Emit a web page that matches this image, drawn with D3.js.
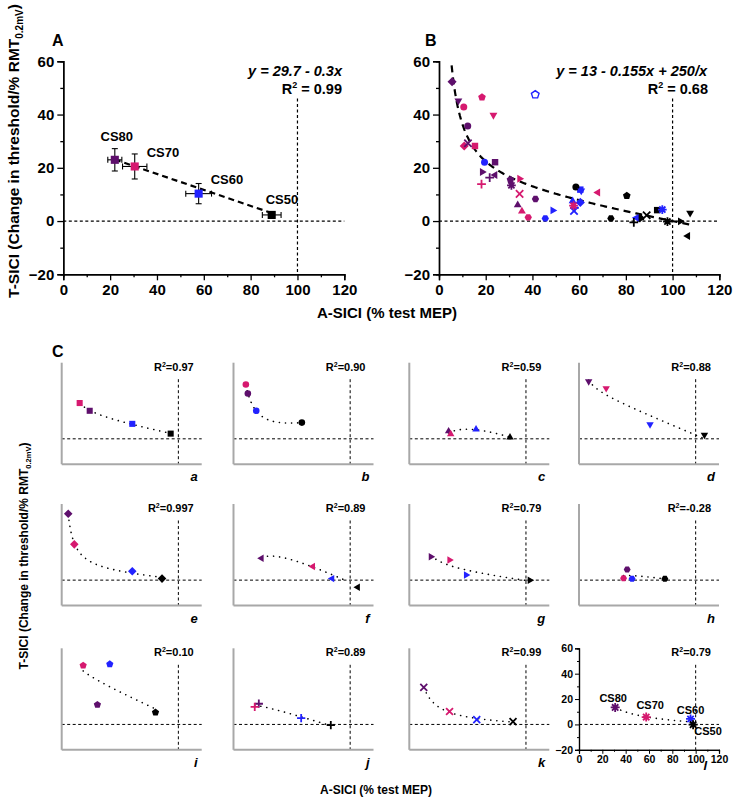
<!DOCTYPE html>
<html><head><meta charset="utf-8">
<script src="https://cdn.jsdelivr.net/npm/d3@7"></script>
<style>
body{margin:0;background:#fff}
text{font-family:"Liberation Sans",Arial,sans-serif;font-weight:bold;fill:#000}
</style>
</head><body>
<svg id="chart" width="733" height="798"></svg>
<script>
// ---------------- DATA ----------------
const csLevels = ["CS80","CS70","CS60","CS50"];
// Panel A (group means with SE)
const meanASICI = [22.0, 30.5, 57.8, 89.0];
const meanTSICI = [23.0, 20.5, 10.3, 2.3];
const errASICI  = [3.0, 5.2, 5.5, 4.0];
const errTSICI  = [4.2, 4.7, 3.8, 0.6];
// Individual subjects (panels a–l), values in order CS80, CS70, CS60, CS50
const subjects = ["a","b","c","d","e","f","g","h","i","j","k","l"];
const markerShapes = ["square","circle","triUp","triDown","diamond","triLeft","triRight","hexagon","pentagon","plus","cross","asterisk"];
const subjASICI = [
  [24.0, 15.4, 60.5, 93.4],
  [12.3, 10.6, 19.5, 58.6],
  [33.7, 35.5, 57.2, 86.3],
  [ 8.3, 23.3, 60.9, 107.5],
  [ 5.6, 10.8, 60.5, 86.0],
  [24.0, 68.0, 84.5, 106.5],
  [18.5, 34.5, 48.7, 103.3],
  [41.3, 38.2, 45.5, 73.6],
  [30.6, 18.4, 41.2, 80.4],
  [21.7, 18.2, 58.0, 83.4],
  [12.4, 34.5, 57.8, 88.9],
  [31.0, 57.6, 95.6, 97.8]
];
const subjTSICI = [
  [22.1, 28.2, 11.8, 4.1],
  [35.7, 42.8, 22.1, 12.8],
  [ 6.0,  3.7,  7.5, 1.2],
  [45.2, 39.8, 11.4, 3.0],
  [52.3, 28.2,  7.0, 1.2],
  [17.3, 10.7,  1.2, -5.6],
  [18.4, 15.9,  4.0, -0.1],
  [ 8.3,  1.4,  1.0, 1.0],
  [15.5, 46.5, 47.5, 9.5],
  [16.3, 13.9,  5.0, -0.5],
  [29.2, 10.2,  3.8, 2.2],
  [13.4,  5.8,  4.3, -0.2]
];
const subjR2 = ["0.97","0.90","0.59","0.88","0.997","0.89","0.79","-0.28","0.10","0.89","0.99","0.79"];
// Fits
const fitA = {a: 29.7, b: -0.3};            // y = a + b x
const fitB = {a: 13, b: -0.155, c: 250};    // y = a + b x + c/x
// fitted curve of subject f: y = a + b x + c/x over [from, to]
const fitF = {a: 47.4, b: -0.4465, c: -453, from: 24, to: 98};
const xTicks = [0,20,40,60,80,100,120];
const yTicks = [-20,0,20,40,60];

// ---------------- STYLE ----------------
const csColors = ["#5e0f6c","#d6196f","#2222ff","#000000"];
const svg = d3.select("#chart");

function poly(n, r, startDeg){
  const pts = d3.range(n).map(i => {
    const a = (startDeg + i*360/n) * Math.PI/180;
    return [r*Math.cos(a), r*Math.sin(a)];
  });
  return "M" + pts.map(p => p[0].toFixed(2)+","+p[1].toFixed(2)).join("L") + "Z";
}
const strokedShapes = new Set(["plus","cross","asterisk"]);
function symPath(shape, r){
  switch(shape){
    case "square": { const s=r*0.92; return `M${-s},${-s}H${s}V${s}H${-s}Z`; }
    case "circle": return `M${r},0A${r},${r} 0 1,1 ${-r},0A${r},${r} 0 1,1 ${r},0Z`;
    case "triUp": return poly(3, r*1.3, -90);
    case "triDown": return poly(3, r*1.3, 90);
    case "triLeft": return poly(3, r*1.3, 180);
    case "triRight": return poly(3, r*1.3, 0);
    case "diamond": return poly(4, r*1.3, -90);
    case "pentagon": return poly(5, r*1.15, -90);
    case "hexagon": return poly(6, r*1.05, 0);
    case "plus": { const a=r*1.25; return `M${-a},0H${a}M0,${-a}V${a}`; }
    case "cross": { const a=r*1.05; return `M${-a},${-a}L${a},${a}M${-a},${a}L${a},${-a}`; }
    case "asterisk": { const a=r*1.25, d=a*0.7071; return `M${-a},0H${a}M0,${-a}V${a}M${-d},${-d}L${d},${d}M${-d},${d}L${d},${-d}`; }
  }
}
function drawMarker(g, shape, cx, cy, r, color, hollow){
  const p = g.append("path").attr("d", symPath(shape, r)).attr("transform", `translate(${cx},${cy})`);
  if (strokedShapes.has(shape)) {
    p.attr("fill","none").attr("stroke",color).attr("stroke-width",1.8).attr("stroke-linecap","butt");
  } else if (hollow) {
    p.attr("fill","#fff").attr("stroke",color).attr("stroke-width",1.4);
  } else {
    p.attr("fill",color);
  }
}
function lsFit(xs, ys){
  // least squares for y = a + b x + c/x
  const f = x => [1, x, 1/x];
  const M = [[0,0,0],[0,0,0],[0,0,0]], v=[0,0,0];
  xs.forEach((x,k)=>{ const r=f(x); for(let i=0;i<3;i++){ v[i]+=r[i]*ys[k]; for(let j=0;j<3;j++) M[i][j]+=r[i]*r[j]; } });
  for(let i=0;i<3;i++){
    let p=i; for(let k=i+1;k<3;k++) if(Math.abs(M[k][i])>Math.abs(M[p][i])) p=k;
    [M[i],M[p]]=[M[p],M[i]]; [v[i],v[p]]=[v[p],v[i]];
    for(let k=i+1;k<3;k++){ const m=M[k][i]/M[i][i]; for(let j=i;j<3;j++) M[k][j]-=m*M[i][j]; v[k]-=m*v[i]; }
  }
  const s=[0,0,0];
  for(let i=2;i>=0;i--){ let t=v[i]; for(let j=i+1;j<3;j++) t-=M[i][j]*s[j]; s[i]=t/M[i][i]; }
  return {a:s[0], b:s[1], c:s[2]};
}

function mainAxes(g, x, y, fs){
  g.append("g").attr("transform",`translate(0,${y.range()[0]})`)
    .call(d3.axisBottom(x).tickValues(xTicks).tickSize(6).tickPadding(4).tickFormat(d3.format("d")));
  g.append("g").attr("transform",`translate(0,${y.range()[0]})`)
    .call(d3.axisBottom(x).tickValues(d3.range(10,120,20)).tickSize(3).tickFormat(""));
  g.append("g").attr("transform",`translate(${x.range()[0]},0)`)
    .call(d3.axisLeft(y).tickValues(yTicks).tickSize(6).tickPadding(3).tickFormat(d3.format("d")));
  g.append("g").attr("transform",`translate(${x.range()[0]},0)`)
    .call(d3.axisLeft(y).tickValues(d3.range(-10,60,20)).tickSize(3).tickFormat(""));
  g.selectAll(".domain").attr("stroke","#000").attr("stroke-width",1.4);
  g.selectAll(".tick line").attr("stroke","#000").attr("stroke-width",1.3);
  g.selectAll(".tick text").attr("font-size",fs).attr("font-family",'"Liberation Sans",Arial,sans-serif').attr("font-weight","bold").attr("fill","#000");
}
function refLines(g, x, y, vTop, w){
  g.append("line").attr("x1",x(0)).attr("x2",x(120)).attr("y1",y(0)).attr("y2",y(0))
    .attr("stroke","#000").attr("stroke-width",w).attr("stroke-dasharray","3,2.5");
  g.append("line").attr("x1",x(100)).attr("x2",x(100)).attr("y1",y(vTop)).attr("y2",y(-20))
    .attr("stroke","#000").attr("stroke-width",w).attr("stroke-dasharray","3,2.5");
}

// ---------------- PANEL A ----------------
{
  const g = svg.append("g");
  const x = d3.scaleLinear().domain([0,120]).range([63.3,344.3]);
  const y = d3.scaleLinear().domain([-20,60]).range([274.3,61.3]);
  refLines(g, x, y, 46, 1.2);
  mainAxes(g, x, y, 15);
  g.append("line").attr("x1",x(meanASICI[0])).attr("x2",x(meanASICI[3]))
    .attr("y1",y(fitA.a+fitA.b*meanASICI[0])).attr("y2",y(fitA.a+fitA.b*meanASICI[3]))
    .attr("stroke","#000").attr("stroke-width",2.2).attr("stroke-dasharray","6,4");
  meanASICI.forEach((mx,i)=>{
    const my = meanTSICI[i], ex=errASICI[i], ey=errTSICI[i];
    const eb = g.append("g").attr("stroke","#000").attr("stroke-width",1.1);
    eb.append("line").attr("x1",x(mx-ex)).attr("x2",x(mx+ex)).attr("y1",y(my)).attr("y2",y(my));
    eb.append("line").attr("x1",x(mx-ex)).attr("x2",x(mx-ex)).attr("y1",y(my)-3).attr("y2",y(my)+3);
    eb.append("line").attr("x1",x(mx+ex)).attr("x2",x(mx+ex)).attr("y1",y(my)-3).attr("y2",y(my)+3);
    eb.append("line").attr("x1",x(mx)).attr("x2",x(mx)).attr("y1",y(my-ey)).attr("y2",y(my+ey));
    eb.append("line").attr("x1",x(mx)-3).attr("x2",x(mx)+3).attr("y1",y(my-ey)).attr("y2",y(my-ey));
    eb.append("line").attr("x1",x(mx)-3).attr("x2",x(mx)+3).attr("y1",y(my+ey)).attr("y2",y(my+ey));
    drawMarker(g, "square", x(mx), y(my), 4.4, csColors[i]);
  });
  const lblOff = [[2,-19,"middle"],[12,-9,"start"],[12,-10,"start"],[-6,-11,"start"]];
  csLevels.forEach((c,i)=>{
    g.append("text").attr("x",x(meanASICI[i])+lblOff[i][0]).attr("y",y(meanTSICI[i])+lblOff[i][1])
      .attr("text-anchor",lblOff[i][2]).attr("font-size",13).text(c);
  });
  g.append("text").attr("x",342).attr("y",76).attr("text-anchor","end").attr("font-size",14.5)
    .attr("font-style","italic").text("y = 29.7 - 0.3x");
  const r2 = g.append("text").attr("x",342).attr("y",94).attr("text-anchor","end").attr("font-size",14.5);
  r2.append("tspan").text("R");
  r2.append("tspan").attr("font-size",9).attr("dy",-6).text("2");
  r2.append("tspan").attr("dy",6).text(" = 0.99");
  g.append("text").attr("x",52).attr("y",46).attr("font-size",16).text("A");
}

// ---------------- PANEL B ----------------
{
  const g = svg.append("g");
  const x = d3.scaleLinear().domain([0,120]).range([439,719.3]);
  const y = d3.scaleLinear().domain([-20,60]).range([274.3,61.3]);
  refLines(g, x, y, 46, 1.2);
  mainAxes(g, x, y, 15);
  const xs = d3.range(5.4, 107.6, 0.5);
  const line = d3.line().x(d=>x(d)).y(d=>y(fitB.a + fitB.b*d + fitB.c/d));
  g.append("path").attr("d", line(xs)).attr("fill","none").attr("stroke","#000")
    .attr("stroke-width",2.2).attr("stroke-dasharray","7,5");
  subjects.forEach((s,si)=>{
    csLevels.forEach((c,ci)=>{
      const hollow = (s==="i" && ci===2);
      drawMarker(g, markerShapes[si], x(subjASICI[si][ci]), y(subjTSICI[si][ci]), 3.5, csColors[ci], hollow);
    });
  });
  g.append("text").attr("x",707).attr("y",76).attr("text-anchor","end").attr("font-size",14.5)
    .attr("font-style","italic").text("y = 13 - 0.155x + 250/x");
  const r2 = g.append("text").attr("x",708).attr("y",94).attr("text-anchor","end").attr("font-size",14.5);
  r2.append("tspan").text("R");
  r2.append("tspan").attr("font-size",9).attr("dy",-6).text("2");
  r2.append("tspan").attr("dy",6).text(" = 0.68");
  g.append("text").attr("x",425).attr("y",46).attr("font-size",16).text("B");
}

// Main axis labels
{
  const t = svg.append("text").attr("transform","translate(19,151) rotate(-90)")
    .attr("text-anchor","middle").attr("font-size",15.5);
  t.append("tspan").text("T-SICI (Change in threshold/% RMT");
  t.append("tspan").attr("font-size",10).attr("dy",4).text("0.2mV");
  t.append("tspan").attr("dy",-4).text(")");
  svg.append("text").attr("x",387).attr("y",318).attr("text-anchor","middle").attr("font-size",15)
    .text("A-SICI (% test MEP)");
}

// ---------------- PANEL C (small multiples) ----------------
{
  const colX = [61.7, 233.5, 409.3, 579];
  const rowTop = [362.7, 504, 648.3];
  const W = 140, H = 101.5;
  svg.append("text").attr("x",52).attr("y",357).attr("font-size",16).text("C");
  subjects.forEach((s,si)=>{
    const x0 = colX[si%4], y0 = rowTop[Math.floor(si/4)];
    const g = svg.append("g");
    const x = d3.scaleLinear().domain([0,120]).range([x0, x0+W]);
    const y = d3.scaleLinear().domain([-20,60]).range([y0+H, y0]);
    refLines(g, x, y, 47, 1);
    if (s === "l") {
      g.append("g").attr("transform",`translate(0,${y0+H})`)
        .call(d3.axisBottom(x).tickValues(xTicks).tickSize(4).tickPadding(2).tickFormat(d3.format("d")));
      g.append("g").attr("transform",`translate(0,${y0+H})`)
        .call(d3.axisBottom(x).tickValues(d3.range(10,120,20)).tickSize(2).tickFormat(""));
      g.append("g").attr("transform",`translate(${x0},0)`)
        .call(d3.axisLeft(y).tickValues(yTicks).tickSize(4).tickPadding(2).tickFormat(d3.format("d")));
      g.append("g").attr("transform",`translate(${x0},0)`)
        .call(d3.axisLeft(y).tickValues(d3.range(-10,60,20)).tickSize(2).tickFormat(""));
      g.selectAll(".domain").attr("stroke","#000").attr("stroke-width",1.2);
      g.selectAll(".tick line").attr("stroke","#000");
      g.selectAll(".tick text").attr("font-size",10.5).attr("font-family",'"Liberation Sans",Arial,sans-serif').attr("font-weight","bold").attr("fill","#000");
    } else {
      g.append("line").attr("x1",x0).attr("x2",x0).attr("y1",y0).attr("y2",y0+H).attr("stroke","#a8a8a8").attr("stroke-width",2);
      g.append("line").attr("x1",x0).attr("x2",x0+W).attr("y1",y0+H).attr("y2",y0+H).attr("stroke","#a8a8a8").attr("stroke-width",2);
    }
    // dotted fit
    const xsd = subjASICI[si], ysd = subjTSICI[si];
    let f, xr;
    if (s === "f") { f = fitF; xr = d3.range(fitF.from, fitF.to+0.01, 0.5); }
    else { f = lsFit(xsd, ysd); xr = d3.range(d3.min(xsd), d3.max(xsd)+0.01, 0.5); }
    g.append("path").attr("d", d3.line().x(d=>x(d)).y(d=>y(f.a+f.b*d+f.c/d))(xr))
      .attr("fill","none").attr("stroke","#000").attr("stroke-width",1.6)
      .attr("stroke-linecap","round").attr("stroke-dasharray","0.1,6");
    csLevels.forEach((c,ci)=>{
      drawMarker(g, markerShapes[si], x(xsd[ci]), y(ysd[ci]), s==="l"?3.6:3.3, csColors[ci]);
    });
    if (s === "l") {
      const off = [[-2,-5,"middle"],[4,-8,"middle"],[0,-5,"middle"],[15,10,"middle"]];
      csLevels.forEach((c,ci)=>{
        g.append("text").attr("x",x(xsd[ci])+off[ci][0]).attr("y",y(ysd[ci])+off[ci][1])
          .attr("text-anchor",off[ci][2]).attr("font-size",11).text(c);
      });
    }
    const r2 = g.append("text").attr("x",x0+132).attr("y",y0+8).attr("text-anchor","end").attr("font-size",11);
    r2.append("tspan").text("R");
    r2.append("tspan").attr("font-size",7).attr("dy",-4).text("2");
    r2.append("tspan").attr("dy",4).text("=" + subjR2[si]);
    const lx = s === "l" ? x0+128 : x0+136;
    const ly = s === "l" ? y0+H+20 : y0+H+17;
    g.append("text").attr("x",lx).attr("y",ly).attr("text-anchor","end")
      .attr("font-size",13).attr("font-style","italic").text(s);
  });
  const t = svg.append("text").attr("transform","translate(28,556) rotate(-90)")
    .attr("text-anchor","middle").attr("font-size",12);
  t.append("tspan").text("T-SICI (Change in threshold/% RMT");
  t.append("tspan").attr("font-size",7.5).attr("dy",3).text("0.2mV");
  t.append("tspan").attr("dy",-3).text(")");
  svg.append("text").attr("x",376).attr("y",794).attr("text-anchor","middle").attr("font-size",12)
    .text("A-SICI (% test MEP)");
}
</script>
</body></html>
